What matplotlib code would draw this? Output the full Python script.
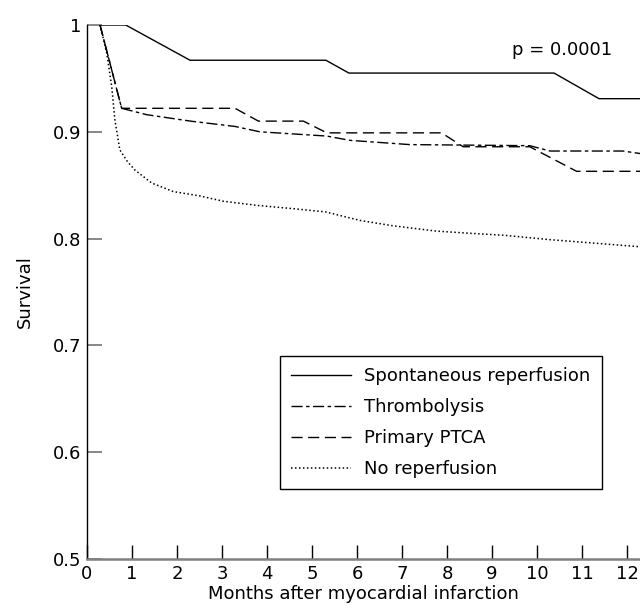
import matplotlib
matplotlib.use("Agg")
import matplotlib.pyplot as plt

# ---- data ----
months_ticks = list(range(0, 13))
survival_ticks = [0.5, 0.6, 0.7, 0.8, 0.9, 1.0]
survival_tick_labels = ["0.5", "0.6", "0.7", "0.8", "0.9", "1"]

spont_x = [0.29, 0.86, 2.29, 5.31, 5.82, 10.38, 11.38, 12.4]
spont_y = [1.0, 1.0, 0.967, 0.967, 0.955, 0.955, 0.931, 0.931]

thromb_x = [0.29, 0.77, 1.33, 2.3, 3.29, 3.84, 5.33, 5.84, 7.18, 9.84, 10.29, 11.91, 12.4]
thromb_y = [1.0, 0.922, 0.916, 0.910, 0.905, 0.900, 0.896, 0.892, 0.888, 0.887, 0.882, 0.882, 0.879]

ptca_x = [0.29, 0.77, 3.29, 3.81, 4.81, 5.33, 7.88, 8.36, 9.84, 10.88, 12.4]
ptca_y = [1.0, 0.922, 0.922, 0.910, 0.910, 0.899, 0.899, 0.886, 0.886, 0.863, 0.863]

norep_x = [0.29, 0.44, 0.55, 0.62, 0.73, 0.9, 1.07, 1.44, 1.92, 2.5, 3.03, 3.8,
           4.59, 5.3, 6.07, 6.8, 7.77, 8.5, 9.3, 10.29, 11.2, 12.4]
norep_y = [1.0, 0.9735, 0.942, 0.911, 0.883, 0.872, 0.864, 0.852, 0.844, 0.840, 0.835, 0.831,
           0.828, 0.825, 0.817, 0.812, 0.807, 0.805, 0.803, 0.799, 0.796, 0.792]

labels = ["Spontaneous reperfusion", "Thrombolysis", "Primary PTCA", "No reperfusion"]
p_text = "p = 0.0001"

# ---- figure ----
plt.rcParams["font.family"] = ["DejaVu Sans"]
FS = 13
fig = plt.figure(figsize=(6.4, 6.12), dpi=100)
ax = fig.add_axes([87 / 640, 53 / 612, 553 / 640, 534 / 612])

lw = 1.0
ax.plot(spont_x, spont_y, color="black", lw=lw, linestyle="-", label=labels[0])
ax.plot(thromb_x, thromb_y, color="black", lw=lw, linestyle=(0, (8, 2.5, 2.5, 2.5)), label=labels[1])
ax.plot(ptca_x, ptca_y, color="black", lw=lw, linestyle=(0, (8, 4)), label=labels[2])
ax.plot(norep_x, norep_y, color="black", lw=lw * 1.1, linestyle=(0, (1, 1.6)), label=labels[3])

ax.set_xlim(0, 12.29)
ax.set_ylim(0.5, 1.0)
ax.set_xticks(months_ticks)
ax.set_xticklabels([str(m) for m in months_ticks], fontsize=FS)
ax.set_yticks(survival_ticks)
ax.set_yticklabels(survival_tick_labels, fontsize=FS)

ax.spines["top"].set_visible(False)
ax.spines["right"].set_visible(False)
ax.spines["left"].set_color("black")
ax.spines["left"].set_linewidth(1.0)
ax.spines["bottom"].set_color("0.5")
ax.spines["bottom"].set_linewidth(1.8)

ax.tick_params(axis="x", direction="in", length=10, width=1.0, color="black", pad=4)
ax.tick_params(axis="y", direction="in", length=11, width=1.2, color="0.45", pad=4)

ax.set_xlabel("Months after myocardial infarction", fontsize=FS, labelpad=2)
ax.set_ylabel("Survival", fontsize=FS, labelpad=14)

ax.text(9.44, 0.977, p_text, fontsize=FS, ha="left", va="center")

leg = ax.legend(loc="lower left", bbox_to_anchor=(0.349, 0.131), fontsize=FS,
                frameon=True, fancybox=False, edgecolor="black", framealpha=1,
                handlelength=3.33, handletextpad=0.72, labelspacing=0.72,
                borderpad=0.62, borderaxespad=0)
leg.get_frame().set_linewidth(1.0)

fig.savefig("out.png", dpi=100)
